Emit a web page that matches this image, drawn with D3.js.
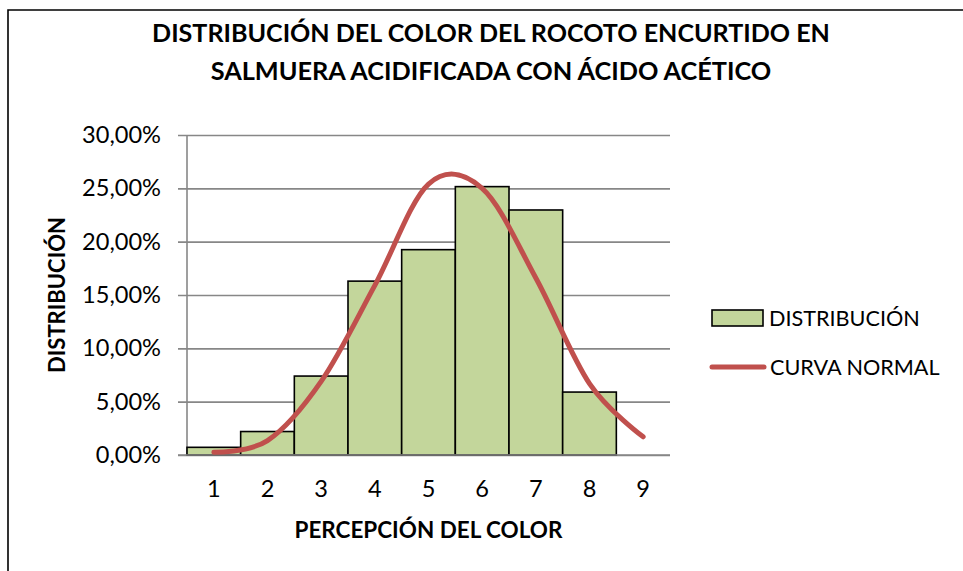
<!DOCTYPE html>
<html>
<head>
<meta charset="utf-8">
<script src="https://cdn.jsdelivr.net/npm/d3@7"></script>
<style>
  html, body { margin: 0; padding: 0; background: #fff; }
  svg { display: block; }
  text { font-family: Lato, "Open Sans", sans-serif; fill: #000; }
</style>
</head>
<body>
<script>
// ---- data ----
const categories = ["1", "2", "3", "4", "5", "6", "7", "8", "9"];
const distribucion = [0.0072, 0.022, 0.074, 0.163, 0.1925, 0.2516, 0.2297, 0.059, 0];
const curvaNormal = [0.0025, 0.0135, 0.069, 0.159, 0.254, 0.250, 0.166, 0.067, 0.017];
const yTicks = [0, 0.05, 0.10, 0.15, 0.20, 0.25, 0.30];
const titleLines = ["DISTRIBUCIÓN DEL COLOR DEL ROCOTO ENCURTIDO EN", "SALMUERA ACIDIFICADA CON ÁCIDO ACÉTICO"];
const xTitle = "PERCEPCIÓN DEL COLOR";
const yTitle = "DISTRIBUCIÓN";
const legendLabels = ["DISTRIBUCIÓN", "CURVA NORMAL"];

const W = 963, H = 571;
const plot = { left: 187, right: 670, top: 135, bottom: 455 };
const barFill = "#C3D69B", curveColor = "#C0504D", gridColor = "#878787";

const svg = d3.select("body").append("svg").attr("width", W).attr("height", H);

function fit(sel, target) {
  const len = sel.node().getComputedTextLength();
  const fs = parseFloat(sel.attr("font-size"));
  const nfs = fs * target / len;
  sel.attr("font-size", nfs);
  return nfs;
}

// frame
svg.append("path")
  .attr("d", `M8,${H + 5} L8,10 L${W + 5},10`)
  .attr("fill", "none").attr("stroke", "#000").attr("stroke-width", 1.6);

// title
const titleBase = [42, 80];
const titleWidths = [678, 561];
titleLines.forEach((t, i) => {
  const s = svg.append("text").attr("x", 491).attr("y", titleBase[i])
    .attr("text-anchor", "middle").attr("font-weight", "bold").attr("font-size", 22).text(t);
  fit(s, titleWidths[i]);
});

const x = d3.scaleBand().domain(categories).range([plot.left, plot.right]).padding(0);
const y = d3.scaleLinear().domain([0, 0.30]).range([plot.bottom, plot.top]);

// y axis with gridlines
const yAxis = d3.axisLeft(y).tickValues(yTicks)
  .tickFormat(d => d3.format(".2f")(d * 100).replace(".", ",") + "%")
  .tickSizeInner(-(plot.right - plot.left)).tickSizeOuter(0).tickPadding(26);
const gy = svg.append("g").attr("transform", `translate(${plot.left},0)`).call(yAxis);
gy.select(".domain").remove();
gy.selectAll(".tick line").attr("x1", -9).attr("stroke", gridColor).attr("stroke-width", 1.6);
gy.selectAll(".tick text").attr("font-size", 20).attr("font-family", "Lato, sans-serif");
// fit tick font size using the widest label
const widest = gy.selectAll(".tick text").filter(d => d === 0.30);
const tickFs = fit(widest, 79);
gy.selectAll(".tick text").attr("font-size", tickFs);

// y axis line
svg.append("line").attr("x1", plot.left).attr("x2", plot.left)
  .attr("y1", plot.top).attr("y2", plot.bottom)
  .attr("stroke", gridColor).attr("stroke-width", 1.6);

// bars
svg.append("g").selectAll("rect")
  .data(categories.map((c, i) => ({ c, v: distribucion[i] })).filter(d => d.v > 0))
  .join("rect")
  .attr("x", d => x(d.c))
  .attr("y", d => y(d.v))
  .attr("width", x.bandwidth())
  .attr("height", d => y(0) - y(d.v))
  .attr("fill", barFill).attr("stroke", "#000").attr("stroke-width", 1.6);

// x axis
const xAxis = d3.axisBottom(x).tickSize(0).tickPadding(0);
const gx = svg.append("g").attr("transform", `translate(0,${plot.bottom})`).call(xAxis);
gx.select(".domain").remove();
gx.selectAll(".tick text").attr("font-size", tickFs).attr("y", 34).attr("dy", "0.35em")
  .attr("font-family", "Lato, sans-serif");
svg.append("line").attr("x1", plot.left - 9).attr("x2", plot.right)
  .attr("y1", plot.bottom).attr("y2", plot.bottom)
  .attr("stroke", gridColor).attr("stroke-width", 1.6);

// normal curve
const line = d3.line()
  .x((d, i) => x(categories[i]) + x.bandwidth() / 2)
  .y(d => y(d))
  .curve(d3.curveCardinal.tension(0));
svg.append("path").datum(curvaNormal).attr("d", line)
  .attr("fill", "none").attr("stroke", curveColor).attr("stroke-width", 5)
  .attr("stroke-linecap", "round").attr("stroke-linejoin", "round");

// axis titles
const xt = svg.append("text").attr("x", (plot.left + plot.right) / 2).attr("y", 538)
  .attr("text-anchor", "middle").attr("font-weight", "bold").attr("font-size", 18).text(xTitle);
fit(xt, 268);
const yt = svg.append("text").attr("transform", `translate(65,${(plot.top + plot.bottom) / 2}) rotate(-90)`)
  .attr("text-anchor", "middle").attr("font-weight", "bold").attr("font-size", 18).text(yTitle);
fit(yt, 156);

// legend
const lg = svg.append("g");
lg.append("rect").attr("x", 712).attr("y", 310).attr("width", 51).attr("height", 16)
  .attr("fill", barFill).attr("stroke", "#000").attr("stroke-width", 1.6);
const l1 = lg.append("text").attr("x", 769).attr("y", 318).attr("dy", "0.35em")
  .attr("font-size", 18).text(legendLabels[0]);
const legFs = fit(l1, 151);
lg.append("line").attr("x1", 712).attr("x2", 764).attr("y1", 367).attr("y2", 367)
  .attr("stroke", curveColor).attr("stroke-width", 5).attr("stroke-linecap", "round");
lg.append("text").attr("x", 770).attr("y", 367).attr("dy", "0.35em")
  .attr("font-size", legFs).text(legendLabels[1]);
</script>
</body>
</html>
